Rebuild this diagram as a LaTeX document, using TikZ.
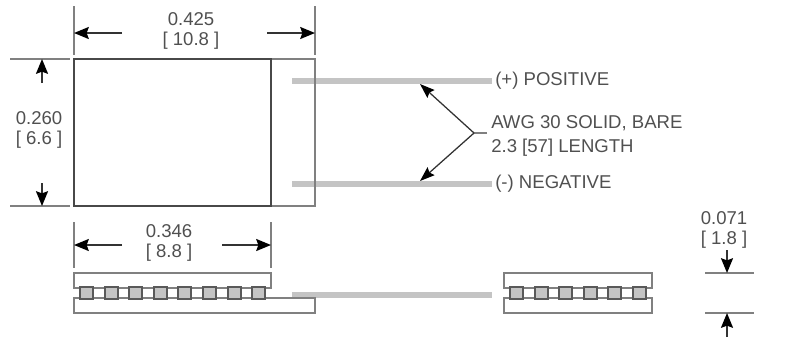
\documentclass[tikz,border=0pt]{standalone}
\usepackage{fontspec}
\setmainfont{Liberation Sans}
\usetikzlibrary{arrows.meta}

\definecolor{inktext}{HTML}{505050}
\definecolor{inkline}{HTML}{808080}
\definecolor{inkbody}{HTML}{484848}
\definecolor{wiregray}{HTML}{C4C4C4}

\tikzset{
  dimline/.style={line width=1.4pt,color=black!80,-{Stealth[length=10.5pt,width=8.5pt,inset=1.5pt,color=black]}},
  extline/.style={line width=1.4pt,color=inkline},
  plate/.style={line width=1.7pt,color=inkline,fill=white},
  wire/.style={line width=4.4pt,color=wiregray},
  pad/.style={line width=1.4pt,draw=black!65,fill=wiregray},
  leader/.style={line width=0.9pt,color=black!80,-{Stealth[length=10.5pt,width=7.5pt,inset=1.5pt,color=black]}},
  dimtext/.style={text=inktext,align=center,inner sep=0pt,font=\fontsize{13.2}{14.4}\selectfont},
  calltext/.style={text=inktext,align=left,anchor=west,inner sep=0pt,font=\fontsize{13.2}{17}\selectfont}
}

\begin{document}
\begin{tikzpicture}[x=0.025cm,y=-0.025cm]
      \useasboundingbox (0,0) rectangle (794,338);
%      \draw[help lines] (0,0) grid[step=50] (794,338);

      % top view, wires first
      \draw[extline] (271,59) -- (315,59) -- (315,206) -- (271,206);
      \draw[wire] (292,81) -- (492,81);
      \draw[wire] (292,184) -- (492,184);
      \draw[extline] (315,76) -- (315,88);
      \draw[extline] (315,179) -- (315,190);
      \draw[line width=1.8pt,color=inkbody] (74,59) rectangle (271,206);

      % overall width
      \draw[extline] (74,6) -- (74,55);
      \draw[extline] (315,6) -- (315,55);
      \node[dimtext] (widthtop) at (191,31) {0.425\\{}[ 10.8 ]};
      \draw[dimline] (122,33) -- (74,33);
      \draw[dimline] (267,33) -- (315,33);

      % height
      \draw[extline] (10,59) -- (70,59);
      \draw[extline] (10,206) -- (70,206);
      \node[dimtext] (heighttop) at (39,130) {0.260\\{}[ 6.6 ]};
      \draw[dimline] (42,83) -- (42,59);
      \draw[dimline] (42,183) -- (42,206);

      % wire labels
      \node[calltext] (pos) at (495,81) {(+) POSITIVE};
      \node[calltext] (neg) at (495,184) {(-) NEGATIVE};
      \node[calltext] (awg) at (491,136) {AWG 30 SOLID, BARE\\2.3 [57] LENGTH};
      \coordinate (stub) at (487,133);
      \coordinate (fork) at (474,133);
      \draw[extline] (stub) -- (fork);
      \draw[leader] (fork) -- (420,84);
      \draw[leader] (fork) -- (420,181);

      % body width
      \draw[extline] (74,222) -- (74,268);
      \draw[extline] (271,222) -- (271,268);
      \node[dimtext] (bodytop) at (169,243) {0.346\\{}[ 8.8 ]};
      \draw[dimline] (122,245) -- (74,245);
      \draw[dimline] (222,245) -- (271,245);

      % side view, long end
      \draw[plate] (74,273) rectangle (271,288);
      \draw[wire] (292,295) -- (492,295);
      \draw[plate] (74,298) rectangle (315,313);
      \foreach \i in {0,...,7}
        \draw[pad] (80+24.6*\i,287) rectangle ++(13,12);

      % side view, cut end
      \draw[plate] (504,273) rectangle (652,288);
      \draw[plate] (504,298) rectangle (652,313);
      \foreach \i in {0,...,5}
        \draw[pad] (510+24.6*\i,287) rectangle ++(13,12);

      % thickness
      \node[dimtext] (thicktop) at (724,230) {0.071\\{}[ 1.8 ]};
      \draw[extline] (705,273) -- (754,273);
      \draw[extline] (705,313) -- (754,313);
      \draw[dimline] (727,250) -- (727,273);
      \draw[dimline] (727,337) -- (727,313);
\end{tikzpicture}
\end{document}
